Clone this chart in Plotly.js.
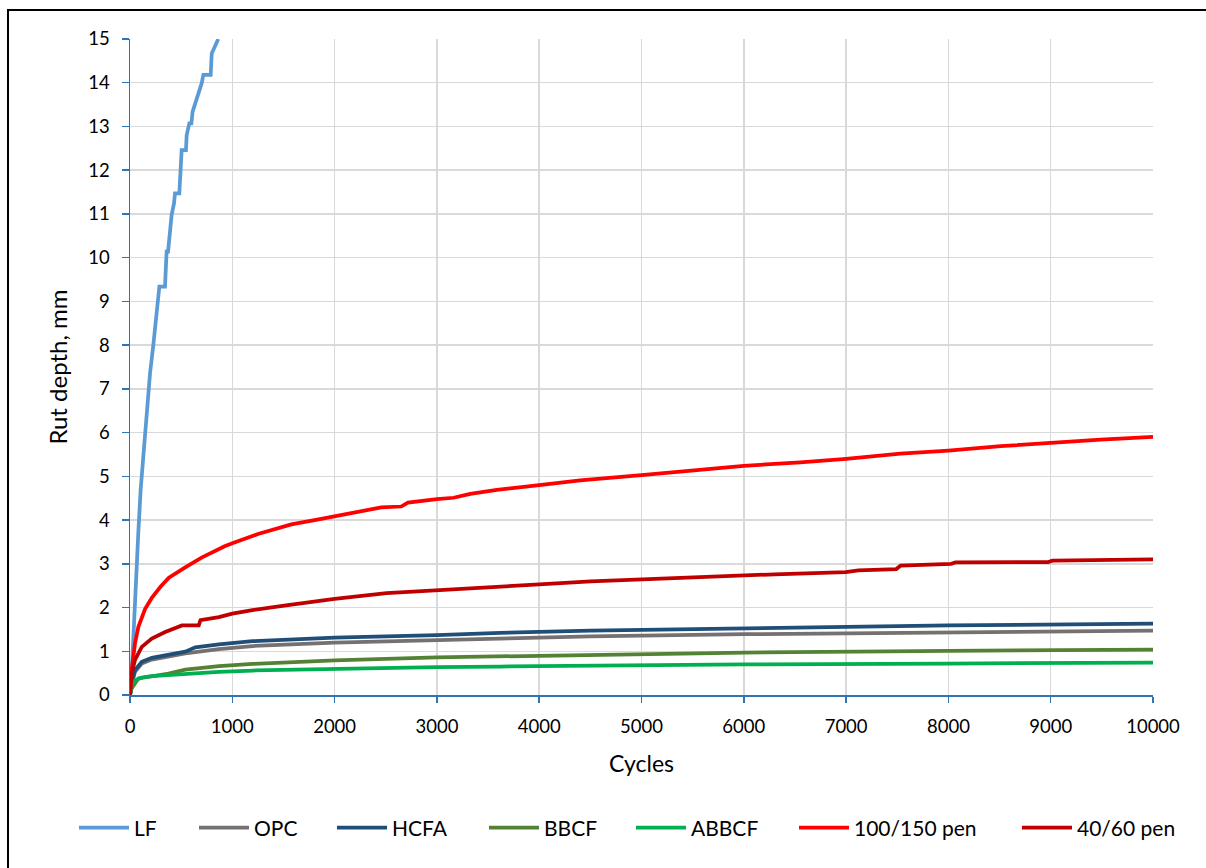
<!DOCTYPE html>
<html>
<head>
<meta charset="utf-8">
<script src="https://cdn.plot.ly/plotly-3.0.1.min.js"></script>
<style>html,body{margin:0;padding:0;background:#fff;} #chart{width:1206px;height:868px;}</style>
</head>
<body>
<div id="chart"></div>
<script>
const seriesNames = ["LF", "OPC", "HCFA", "BBCF", "ABBCF", "100/150 pen", "40/60 pen"];
const seriesColors = ["#5B9BD5", "#767171", "#1F4E79", "#548235", "#00B050", "#FF0000", "#C00000"];

const lfCycles = [0,10,32,59,81,104,130,163,196,228,254,277,287,342,358,372,391,407,430,440,482,505,547,554,580,600,612,645,668,701,717,789,799,831,863];
const lfDepth  = [0,0.15,1.26,2.78,3.70,4.69,5.45,6.59,7.36,8.0,8.58,9.11,9.34,9.34,10.14,10.14,10.71,10.98,11.24,11.47,11.47,12.46,12.46,12.8,13.07,13.07,13.34,13.57,13.72,13.99,14.18,14.18,14.67,14.83,15.0];

const opcCycles = [0,16,49,115,213,541,869,1197,2000,3000,3617,4500,6007,8000,10000];
const opcDepth  = [0,0.25,0.53,0.72,0.81,0.95,1.05,1.12,1.20,1.26,1.29,1.34,1.39,1.43,1.47];

const hcfaCycles = [0,16,49,115,213,377,541,639,869,1197,2000,3000,3617,4500,6007,8000,10000];
const hcfaDepth  = [0,0.27,0.57,0.76,0.85,0.91,0.99,1.09,1.16,1.23,1.31,1.37,1.42,1.47,1.53,1.59,1.63];

const bbcfCycles = [0,16,82,213,377,541,869,1197,2000,3000,3617,4500,6007,8000,10000];
const bbcfDepth  = [0,0.15,0.38,0.43,0.49,0.58,0.66,0.71,0.79,0.86,0.88,0.92,0.97,1.01,1.04];

const abbcfCycles = [0,16,49,115,213,541,869,1197,2000,3000,3617,4500,6007,8000,10000];
const abbcfDepth  = [0,0.19,0.33,0.40,0.43,0.49,0.53,0.56,0.60,0.64,0.65,0.67,0.70,0.72,0.74];

const pen100Cycles = [0,16,49,82,148,213,300,380,540,700,925,1000,1251,1577,1805,2000,2228,2456,2651,2717,3000,3163,3326,3586,4000,4400,5000,5541,6000,6553,7000,7531,8000,8511,9000,9489,10000];
const pen100Depth  = [0,0.57,1.18,1.56,1.97,2.22,2.48,2.68,2.92,3.14,3.40,3.47,3.68,3.90,4.00,4.09,4.19,4.29,4.31,4.40,4.48,4.51,4.60,4.69,4.80,4.91,5.03,5.15,5.24,5.32,5.40,5.52,5.59,5.69,5.77,5.84,5.90];

const pen40Cycles = [0,16,49,115,213,344,508,672,689,869,1000,1197,1525,2000,2508,3000,3617,4000,4503,5018,5678,6300,6997,7120,7491,7533,8027,8068,8975,9017,10000];
const pen40Depth  = [0,0.49,0.80,1.10,1.29,1.44,1.59,1.59,1.71,1.78,1.86,1.94,2.05,2.20,2.33,2.39,2.47,2.53,2.60,2.65,2.72,2.76,2.81,2.85,2.88,2.96,3.00,3.03,3.04,3.07,3.10];

const xTickVals = [0,1000,2000,3000,4000,5000,6000,7000,8000,9000,10000];
const yTickVals = [0,1,2,3,4,5,6,7,8,9,10,11,12,13,14,15];

const xs = [lfCycles, opcCycles, hcfaCycles, bbcfCycles, abbcfCycles, pen100Cycles, pen40Cycles];
const ys = [lfDepth, opcDepth, hcfaDepth, bbcfDepth, abbcfDepth, pen100Depth, pen40Depth];

const FONT = "Lato, 'Liberation Sans', sans-serif";
const L = 130, R = 53, T = 39, B = 173;
const W = 1206, H = 868;
const pw = W - L - R, ph = H - T - B;
const px2x = p => (p - L) / pw;
const py2y = p => (H - B - p) / ph;

// legend entry left positions (px)
const legendStarts = [74, 194, 332, 484, 631, 794, 1017];
const legendKeys = ["legend", "legend2", "legend3", "legend4", "legend5", "legend6", "legend7"];

const traces = seriesNames.map((n, i) => ({
  type: "scatter", mode: "lines", name: n,
  x: xs[i], y: ys[i],
  line: {color: seriesColors[i], width: 3.75},
  legend: legendKeys[i],
  hoverinfo: "x+y+name"
}));

const layout = {
  width: W, height: H,
  margin: {l: L, r: R, t: T, b: B},
  paper_bgcolor: "#fff", plot_bgcolor: "#fff",
  font: {family: FONT, size: 18, color: "#000"},
  showlegend: true,
  xaxis: {
    range: [0, 10000], tickvals: xTickVals, ticktext: xTickVals.map(String),
    showgrid: true, gridcolor: "#D9D9D9", gridwidth: 1.5,
    zeroline: false, showline: true, linecolor: "#2E75B6", linewidth: 1.5,
    ticks: "outside", ticklen: 6, tickcolor: "#2E75B6", tickwidth: 1.5,
    tickfont: {family: FONT, size: 18.5, color: "#000"},
    ticklabelstandoff: 8,
    title: {text: "Cycles", font: {family: FONT, size: 23, color: "#000"}, standoff: 20},
    mirror: false
  },
  yaxis: {
    range: [0, 15], tickvals: yTickVals, ticktext: yTickVals.map(String),
    showgrid: true, gridcolor: "#D9D9D9", gridwidth: 1.5,
    zeroline: false, showline: true, linecolor: "#2E75B6", linewidth: 1.5,
    ticks: "outside", ticklen: 7, tickcolor: "#2E75B6", tickwidth: 1.5,
    tickfont: {family: FONT, size: 18.5, color: "#000"},
    ticklabelstandoff: 8,
    title: {text: "Rut depth, mm", font: {family: FONT, size: 24, color: "#000"}, standoff: 14}
  },
  shapes: [
    {type: "rect", xref: "paper", yref: "paper",
     x0: px2x(8), x1: px2x(1212), y0: py2y(875), y1: py2y(10),
     line: {color: "#000", width: 2}, fillcolor: "rgba(0,0,0,0)", layer: "above"}
  ]
};

legendKeys.forEach((k, i) => {
  layout[k] = {
    x: px2x(legendStarts[i]), xanchor: "left",
    y: py2y(828), yanchor: "middle",
    orientation: "h", bgcolor: "rgba(0,0,0,0)", borderwidth: 0,
    font: {family: FONT, size: 21, color: "#000"},
    itemwidth: 50
  };
});

Plotly.newPlot("chart", traces, layout, {displayModeBar: false, staticPlot: true});
</script>
</body>
</html>
